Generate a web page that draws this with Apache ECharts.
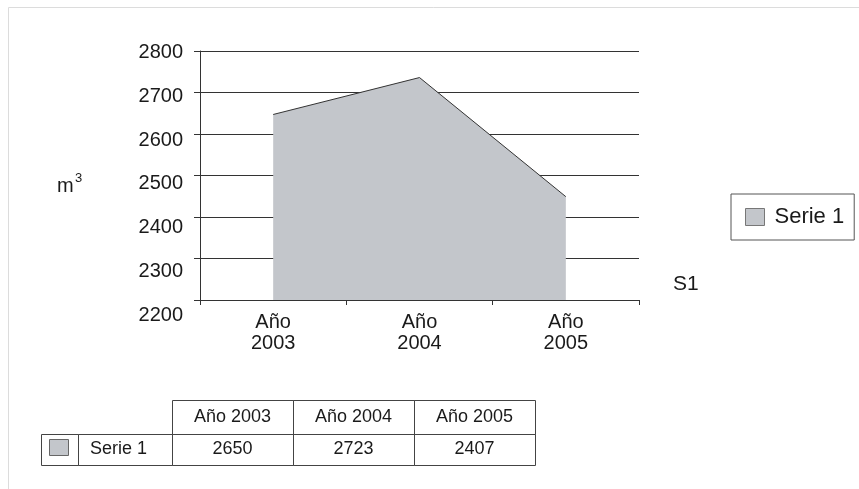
<!DOCTYPE html>
<html>
<head>
<meta charset="utf-8">
<script src="https://cdn.jsdelivr.net/npm/echarts@6/dist/echarts.min.js"></script>
<style>
  html, body { margin: 0; padding: 0; background: #fff; }
  #chart { width: 859px; height: 489px; }
</style>
</head>
<body>
<div id="chart"></div>
<script>
// values
const categories = ['Año\n2003', 'Año\n2004', 'Año\n2005']
const serie1 = [2647, 2736, 2449]
const yTicks = { min: 2200, max: 2800, interval: 100 }

// data table under the chart (as printed)
const tableHeaders = ['Año 2003', 'Año 2004', 'Año 2005']
const tableValues = ['2650', '2723', '2407']
const seriesName = 'Serie 1'

const fillColor = '#c3c6cb'
const inkColor = '#1a1a1a'
const font = '"Liberation Sans", Arial, sans-serif'

const chart = echarts.init(document.getElementById('chart'))

// table built from the arrays above
const colX = [172, 293, 414, 535]
const rowY = [400, 434, 465]
const tableGraphics = []
const cellLine = { stroke: '#444', lineWidth: 1, fill: 'none' }

tableHeaders.forEach((h, i) => {
  tableGraphics.push({
    type: 'rect',
    shape: { x: colX[i] + 0.5, y: rowY[0] + 0.5, width: colX[i + 1] - colX[i], height: rowY[1] - rowY[0] },
    style: cellLine
  })
  tableGraphics.push({
    type: 'text',
    x: (colX[i] + colX[i + 1]) / 2, y: (rowY[0] + rowY[1]) / 2,
    style: { text: h, font: '18px ' + font, fill: inkColor, align: 'center', verticalAlign: 'middle' }
  })
  tableGraphics.push({
    type: 'rect',
    shape: { x: colX[i] + 0.5, y: rowY[1] + 0.5, width: colX[i + 1] - colX[i], height: rowY[2] - rowY[1] },
    style: cellLine
  })
  tableGraphics.push({
    type: 'text',
    x: (colX[i] + colX[i + 1]) / 2, y: (rowY[1] + rowY[2]) / 2,
    style: { text: tableValues[i], font: '18px ' + font, fill: inkColor, align: 'center', verticalAlign: 'middle' }
  })
})
// key cell + series name cell
tableGraphics.push({
  type: 'rect',
  shape: { x: 41.5, y: rowY[1] + 0.5, width: 37, height: rowY[2] - rowY[1] },
  style: cellLine
})
tableGraphics.push({
  type: 'rect',
  shape: { x: 78.5, y: rowY[1] + 0.5, width: colX[0] - 78, height: rowY[2] - rowY[1] },
  style: cellLine
})
tableGraphics.push({
  type: 'rect',
  shape: { x: 49.5, y: 439.5, width: 19, height: 16 },
  style: { fill: fillColor, stroke: '#666', lineWidth: 1 }
})
tableGraphics.push({
  type: 'text',
  x: 90, y: (rowY[1] + rowY[2]) / 2,
  style: { text: seriesName, font: '18px ' + font, fill: inkColor, align: 'left', verticalAlign: 'middle' }
})

chart.setOption({
  backgroundColor: '#fff',
  animation: false,
  textStyle: { fontFamily: font },
  grid: [
    { left: 200, right: 220, top: 51, bottom: 189 },
    // label-only grid, the printed tick labels sit on a slightly taller scale
    { left: 200, right: 220, top: 52.5, bottom: 174 }
  ],
  xAxis: [
    {
      type: 'category',
      gridIndex: 0,
      data: categories,
      boundaryGap: true,
      axisLine: { show: true, lineStyle: { color: '#333', width: 1 } },
      axisTick: { show: true, length: 5, lineStyle: { color: '#333' } },
      axisLabel: { fontSize: 20, color: inkColor, margin: 12, lineHeight: 21, fontFamily: font }
    },
    { type: 'category', gridIndex: 1, data: categories, show: false }
  ],
  yAxis: [
    {
      type: 'value',
      gridIndex: 0,
      min: yTicks.min, max: yTicks.max, interval: yTicks.interval,
      axisLine: { show: true, lineStyle: { color: '#333', width: 1 } },
      axisTick: { show: true, length: 6, lineStyle: { color: '#333' } },
      axisLabel: { show: false },
      splitLine: { show: true, lineStyle: { color: '#333', width: 1 } }
    },
    {
      type: 'value',
      gridIndex: 1,
      min: yTicks.min, max: yTicks.max, interval: yTicks.interval,
      axisLine: { show: false },
      axisTick: { show: false },
      splitLine: { show: false },
      axisLabel: { fontSize: 20, color: inkColor, margin: 17, fontFamily: font, formatter: v => String(v) }
    }
  ],
  legend: {
    left: 731, top: 194,
    orient: 'vertical',
    padding: [12, 10, 12, 14],
    borderColor: '#555', borderWidth: 1,
    itemWidth: 19, itemHeight: 17,
    textStyle: { fontSize: 22, color: inkColor, fontFamily: font, padding: [0, 0, 0, 5] },
    data: [{ name: seriesName, icon: 'rect', itemStyle: { color: fillColor, borderColor: '#777', borderWidth: 1 } }]
  },
  graphic: [
    { type: 'line', shape: { x1: 8.5, y1: 7.5, x2: 859, y2: 7.5 }, style: { stroke: '#dcdcdc', lineWidth: 1 } },
    { type: 'line', shape: { x1: 8.5, y1: 7.5, x2: 8.5, y2: 489 }, style: { stroke: '#dcdcdc', lineWidth: 1 } },
    {
      type: 'text', x: 57, y: 186,
      style: { text: 'm', font: '20px ' + font, fill: inkColor, verticalAlign: 'middle' }
    },
    {
      type: 'text', x: 75, y: 178,
      style: { text: '3', font: '13px ' + font, fill: inkColor, verticalAlign: 'middle' }
    },
    {
      type: 'text', x: 673, y: 284,
      style: { text: 'S1', font: '21px ' + font, fill: inkColor, verticalAlign: 'middle' }
    },
    ...tableGraphics
  ],
  series: [
    {
      name: seriesName,
      type: 'line',
      xAxisIndex: 0, yAxisIndex: 0,
      data: serie1,
      symbol: 'none',
      itemStyle: { color: fillColor },
      lineStyle: { color: '#333', width: 1 },
      areaStyle: { color: fillColor, opacity: 1, origin: 'start' }
    }
  ]
})
</script>
</body>
</html>
